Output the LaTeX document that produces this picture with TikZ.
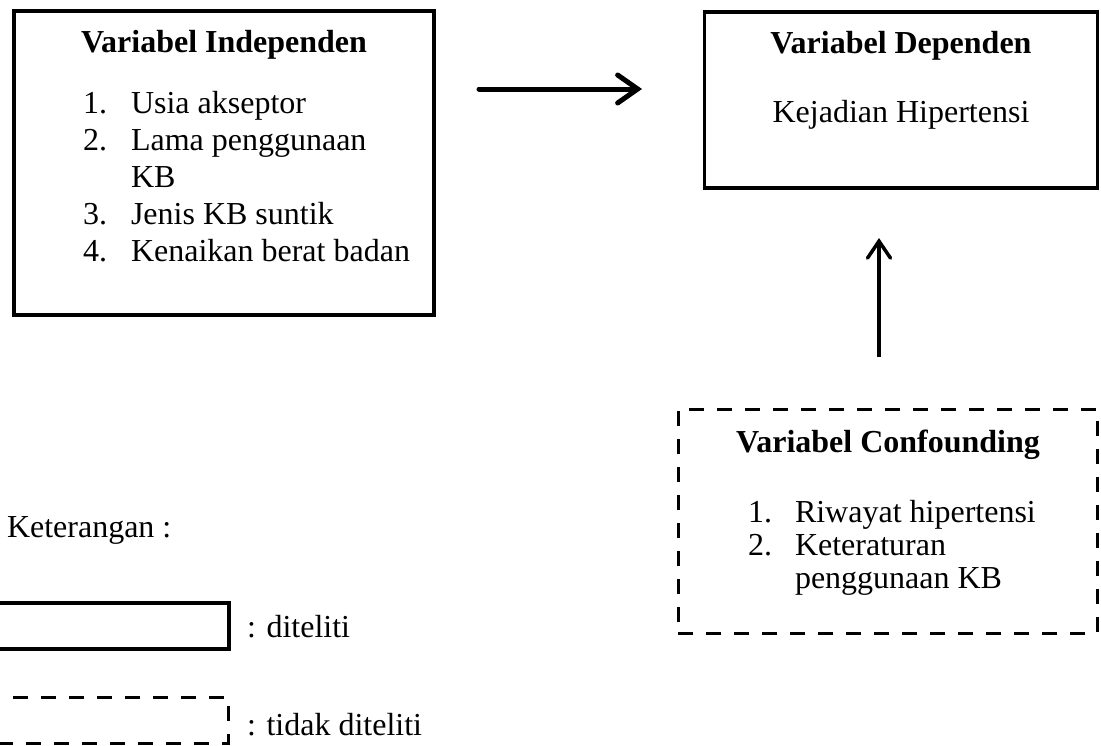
\documentclass[tikz,border=0pt]{standalone}
\usepackage{fontspec}
\setmainfont{Liberation Serif}
\usetikzlibrary{arrows.meta}
\begin{document}
\begin{tikzpicture}[x=1pt,y=-1pt,
  txt/.style={inner sep=0pt, outer sep=0pt, font=\fontsize{32}{37}\selectfont},
  ttl/.style={inner sep=0pt, outer sep=0pt, font=\fontsize{32}{37}\selectfont\bfseries},
  solidbox/.style={draw, line width=3.5pt, inner sep=0pt, outer sep=0pt},
  dashbox/.style={draw, line width=3pt, inner sep=0pt, outer sep=0pt, dash pattern=on 15pt off 13pt},
  bigarrow/.style={line width=5pt, line cap=round, -{Straight Barb[length=20pt,width=28pt,line cap=round]}},
  uparrow/.style={line width=3.5pt, -{Straight Barb[length=17pt,width=23pt,line cap=round]}}
]
\useasboundingbox (0,0) rectangle (1101,745);

% Independent box
\node[solidbox, minimum width=420pt, minimum height=304pt] (indep) at (224,163) {};
\node[ttl, anchor=base] (indeptitle) at (224,52) {Variabel Independen};
\node[txt, anchor=base west] (in1) at (83,113) {1.};
\node[txt, anchor=base west] (it1) at (131,113) {Usia akseptor};
\node[txt, anchor=base west] (in2) at (83,150) {2.};
\node[txt, anchor=base west] (it2) at (131,150) {Lama penggunaan};
\node[txt, anchor=base west] (it2b) at (131,187) {KB};
\node[txt, anchor=base west] (in3) at (83,224) {3.};
\node[txt, anchor=base west] (it3) at (131,224) {Jenis KB suntik};
\node[txt, anchor=base west] (in4) at (83,261) {4.};
\node[txt, anchor=base west] (it4) at (131,261) {Kenaikan berat badan};

% Dependent box
\node[solidbox, minimum width=393pt, minimum height=176pt] (dep) at (901,100) {};
\node[ttl, anchor=base] (deptitle) at (901,53) {Variabel Dependen};
\node[txt, anchor=base] (deptext) at (901,122) {Kejadian Hipertensi};

% Confounding box
\node[dashbox, minimum width=419pt, minimum height=224pt] (conf) at (887.5,521) {};
\node[ttl, anchor=base] (conftitle) at (888,452) {Variabel Confounding};
\node[txt, anchor=base west] (cn1) at (748,522) {1.};
\node[txt, anchor=base west] (ct1) at (795,522) {Riwayat hipertensi};
\node[txt, anchor=base west] (cn2) at (748,555) {2.};
\node[txt, anchor=base west] (ct2) at (795,555) {Keteraturan};
\node[txt, anchor=base west] (ct2b) at (795,588) {penggunaan KB};

% Arrows
\coordinate (h1) at (479,89);
\coordinate (h2) at (642,89);
\draw[bigarrow] (h1) -- (h2);
\coordinate (v1) at (879,357);
\coordinate (v2) at (879,238);
\draw[uparrow] (v1) -- (v2);

% Legend
\node[txt, anchor=base west] (ket) at (7,537) {Keterangan :};
\node[solidbox, minimum width=231pt, minimum height=46pt] (legsolid) at (113.5,626) {};
\node[txt, anchor=base west] (legsolidtxt) at (247,637) {: diteliti};
\node[dashbox, minimum width=230pt, minimum height=46pt] (legdash) at (113,720) {};
\node[txt, anchor=base west] (legdashtxt) at (247,735) {: tidak diteliti};
\end{tikzpicture}
\end{document}
